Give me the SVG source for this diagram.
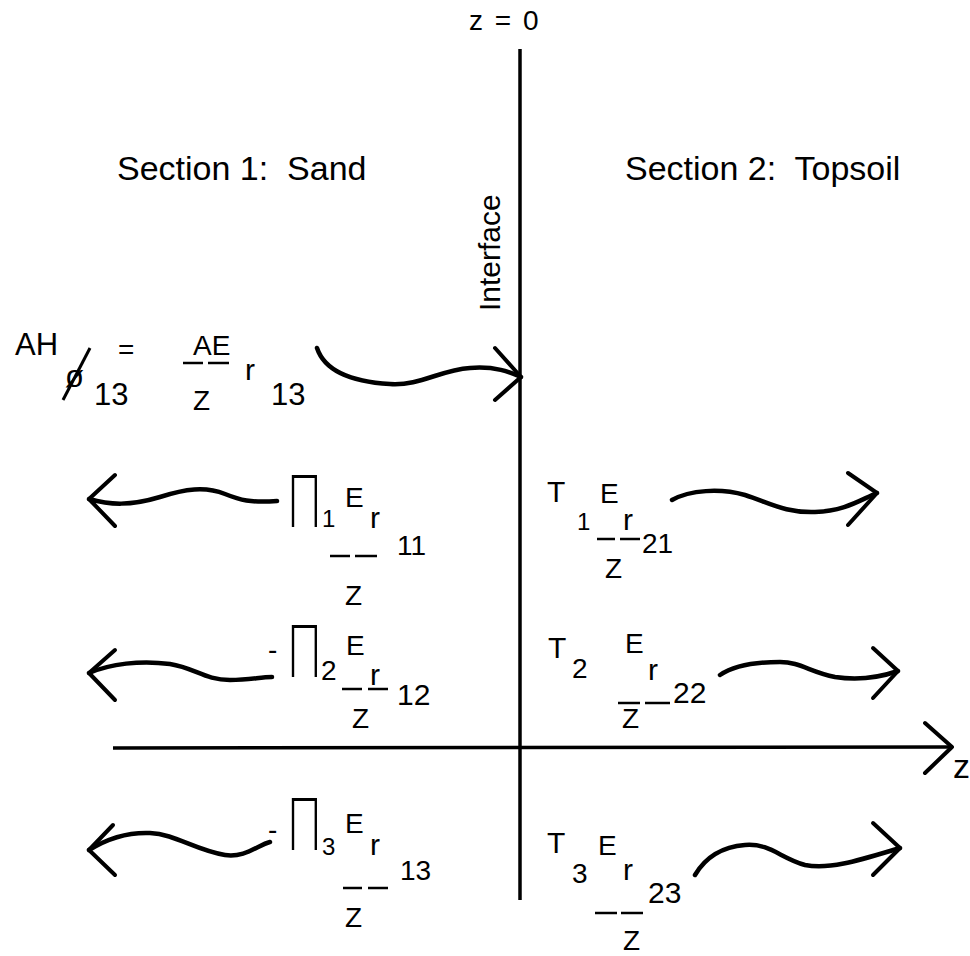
<svg xmlns="http://www.w3.org/2000/svg" width="970" height="956" viewBox="0 0 970 956">
<style>
text{font-family:"Liberation Sans",Arial,sans-serif;fill:#000}
.t{font-size:28px}
.s{font-size:24px}
.r{font-size:30px}
.q{font-size:31px}
.big{font-size:34px}
.pi{font-family:Lato,"Liberation Sans",sans-serif;font-weight:300;font-size:72px}
.w{fill:none;stroke:#000;stroke-width:4.5;stroke-linecap:round;stroke-linejoin:round}
.h{fill:none;stroke:#000;stroke-width:4;stroke-linecap:round;stroke-linejoin:round}
.ax{fill:none;stroke:#000;stroke-width:3.5}
.d{stroke:#000;stroke-width:2.5}
</style>
<rect width="970" height="956" fill="#fff"/>

<g id="axes">
<line class="ax" x1="520" y1="49" x2="520" y2="900"/>
<line class="ax" x1="113" y1="748" x2="950" y2="747"/>
<polyline class="h" points="925,723 952,747 925,773"/>
</g>

<g id="titles">
<text class="t" x="469" y="30" letter-spacing="2">z = 0</text>
<text class="big" x="117" y="180" xml:space="preserve">Section 1:  Sand</text>
<text class="big" x="625" y="180" xml:space="preserve">Section 2:  Topsoil</text>
<text class="r" transform="translate(500,311) rotate(-90)">Interface</text>
<text class="big" x="953" y="778">z</text>
</g>

<g id="incident">
<text class="q" x="15" y="355">AH</text>
<text class="q" x="65" y="387">ø</text>
<line x1="90" y1="348" x2="63" y2="400" stroke="#000" stroke-width="3"/>
<text class="q" x="94" y="405">13</text>
<text class="t" x="118" y="359">=</text>
<text class="t" x="193" y="355">AE</text>
<line class="d" x1="183" y1="363" x2="203" y2="363"/>
<line class="d" x1="208" y1="363" x2="229" y2="363"/>
<text class="t" x="193" y="410">Z</text>
<text class="r" x="245" y="380">r</text>
<text class="q" x="271" y="405">13</text>
</g>

<g id="reflected1">
<text class="pi" transform="translate(287,527) scale(0.64,1)">Π</text>
<text class="s" x="322" y="527">1</text>
<text class="t" x="345" y="507">E</text>
<text class="r" x="370" y="528">r</text>
<line class="d" x1="330" y1="556" x2="350" y2="556"/>
<line class="d" x1="355" y1="556" x2="377" y2="556"/>
<text class="t" x="397" y="555">11</text>
<text class="t" x="345" y="605">Z</text>
</g>

<g id="transmitted1">
<text class="r" x="547" y="502">T</text>
<text class="s" x="577" y="530">1</text>
<text class="t" x="600" y="503">E</text>
<text class="r" x="623" y="530">r</text>
<line class="d" x1="597" y1="539" x2="615" y2="539"/>
<line class="d" x1="620" y1="539" x2="640" y2="539"/>
<text class="t" x="642" y="553">21</text>
<text class="t" x="605" y="578">Z</text>
</g>

<g id="reflected2">
<text class="t" x="268" y="659">-</text>
<text class="pi" transform="translate(287,677) scale(0.64,1)">Π</text>
<text class="t" x="321" y="680">2</text>
<text class="t" x="346" y="655">E</text>
<text class="r" x="370" y="685">r</text>
<line class="d" x1="342" y1="689" x2="362" y2="689"/>
<line class="d" x1="368" y1="689" x2="388" y2="689"/>
<text class="r" x="397" y="705">12</text>
<text class="t" x="352" y="728">Z</text>
</g>

<g id="transmitted2">
<text class="r" x="548" y="658">T</text>
<text class="t" x="572" y="678">2</text>
<text class="t" x="625" y="653">E</text>
<text class="r" x="648" y="680">r</text>
<line class="d" x1="618" y1="703" x2="640" y2="703"/>
<line class="d" x1="645" y1="703" x2="670" y2="703"/>
<text class="t" x="622" y="728">Z</text>
<text class="r" x="673" y="703">22</text>
</g>

<g id="reflected3">
<text class="t" x="268" y="839">-</text>
<text class="pi" transform="translate(287,850) scale(0.64,1)">Π</text>
<text class="s" x="322" y="855">3</text>
<text class="t" x="345" y="833">E</text>
<text class="r" x="370" y="855">r</text>
<text class="t" x="400" y="880">13</text>
<line class="d" x1="343" y1="888" x2="362" y2="888"/>
<line class="d" x1="368" y1="888" x2="388" y2="888"/>
<text class="t" x="345" y="927">Z</text>
</g>

<g id="transmitted3">
<text class="r" x="547" y="853">T</text>
<text class="t" x="572" y="883">3</text>
<text class="t" x="598" y="855">E</text>
<text class="r" x="623" y="880">r</text>
<text class="r" x="648" y="903">23</text>
<line class="d" x1="595" y1="913" x2="617" y2="913"/>
<line class="d" x1="621" y1="913" x2="643" y2="913"/>
<text class="t" x="623" y="950">Z</text>
</g>

<g id="connectors">
<path class="w" d="M317,348 C325,372 355,382 390,384 C420,386 440,370 470,368 C495,366 510,372 521,377"/>
<polyline class="h" points="495,348 521,377 495,400"/>

<path class="w" d="M89,499 C110,505 130,506 160,497 C185,489 205,486 225,494 C240,500 250,503 277,501"/>
<polyline class="h" points="115,475 89,499 115,526"/>

<path class="w" d="M672,500 C690,490 720,488 745,495 C770,503 785,513 815,512 C845,511 860,500 877,493"/>
<polyline class="h" points="848,473 877,493 848,525"/>

<path class="w" d="M89,673 C110,664 140,660 170,664 C195,668 205,680 230,680 C250,680 260,677 272,677"/>
<polyline class="h" points="115,650 89,673 115,700"/>

<path class="w" d="M720,675 C735,665 755,662 780,662 C800,662 810,672 835,677 C855,680 875,679 898,671"/>
<polyline class="h" points="873,648 898,671 873,698"/>

<path class="w" d="M89,850 C105,840 125,832 150,833 C175,834 195,850 225,855 C245,858 258,845 270,842"/>
<polyline class="h" points="113,825 89,850 115,875"/>

<path class="w" d="M695,875 C705,858 720,847 745,845 C770,843 780,858 805,865 C830,870 860,860 900,848"/>
<polyline class="h" points="873,823 900,848 873,875"/>
</g>
</svg>
